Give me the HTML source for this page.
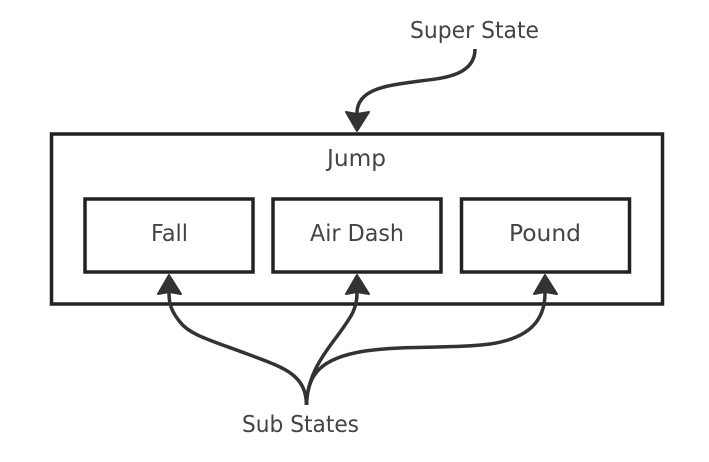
<!DOCTYPE html>
<html>
<head>
<meta charset="utf-8">
<style>
html,body{margin:0;padding:0;background:#fff;width:709px;height:462px;overflow:hidden}
svg{display:block}
text{font-family:"DejaVu Sans","Liberation Sans",sans-serif;font-size:23px;fill:#444}
</style>
</head>
<body>
<svg width="709" height="462" viewBox="0 0 709 462" xmlns="http://www.w3.org/2000/svg">
<rect x="0" y="0" width="709" height="462" fill="#fff"/>
<g fill="none" stroke="#222" stroke-width="3.500">
<rect x="51.500" y="134" width="611" height="170"/>
<rect x="85" y="199" width="168" height="73"/>
<rect x="273" y="199" width="168" height="73"/>
<rect x="461.500" y="199" width="168" height="73"/>
</g>
<g fill="none" stroke="#333" stroke-width="3.500">
<path d="M475 49 C475 75 445 78 420 81 C390 85 357 88 357 113"/>
<path d="M306.500 405 C306 375 285 368 250 355 C210 340 190 335 180 322 C172 312 169 305 169 293"/>
<path d="M306.500 405 C307 375 325 352 338 335 C350 318 357 310 357 293"/>
<path d="M306.500 405 C307 375 320 358 365 351 C410 345 450 349 490 344 C530 338 545 320 545 293"/>
</g>
<g fill="#333" stroke="#333" stroke-width="2" stroke-linejoin="round">
<path d="M357 131 L346 112 L357 114 L369 112 Z"/>
<path d="M169 275 L158 294 L169 292 L181 294 Z"/>
<path d="M357 275 L346 294 L357 292 L369 294 Z"/>
<path d="M545 275 L534 294 L545 292 L557 294 Z"/>
</g>
<text x="410" y="38" textLength="129" lengthAdjust="spacingAndGlyphs">Super State</text>
<text x="327" y="166" textLength="59" lengthAdjust="spacingAndGlyphs">Jump</text>
<text x="151" y="241" textLength="37" lengthAdjust="spacingAndGlyphs">Fall</text>
<text x="310" y="241" textLength="94" lengthAdjust="spacingAndGlyphs">Air Dash</text>
<text x="509" y="241" textLength="72" lengthAdjust="spacingAndGlyphs">Pound</text>
<text x="242" y="432" textLength="117" lengthAdjust="spacingAndGlyphs">Sub States</text>
</svg>
</body>
</html>
